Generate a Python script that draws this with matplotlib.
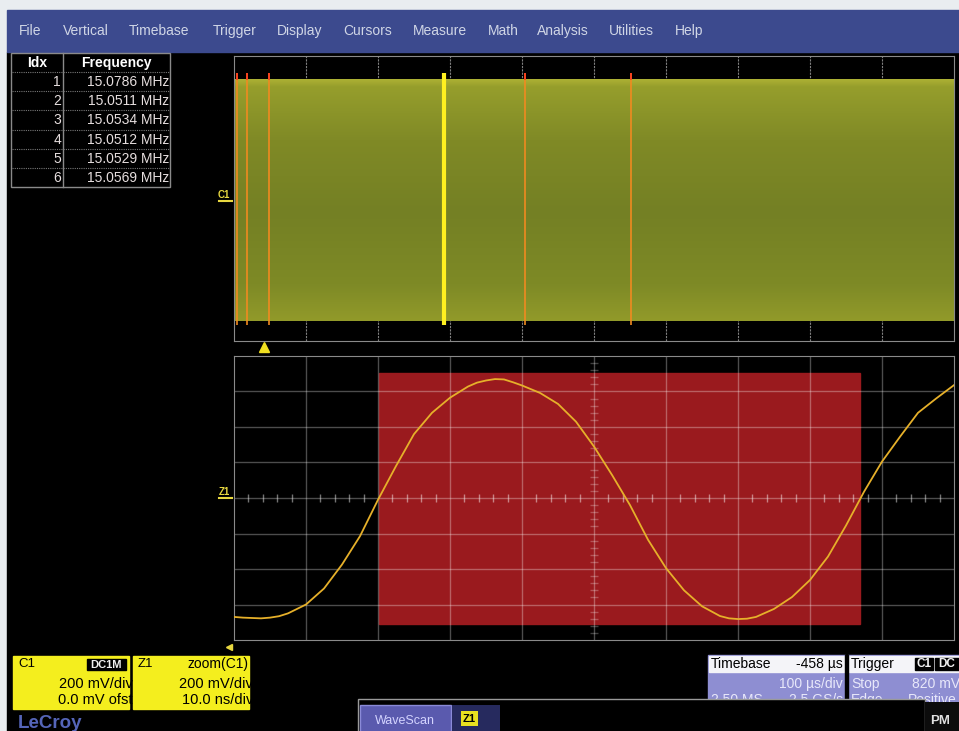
import numpy as np
import matplotlib
matplotlib.use('Agg')
import matplotlib.pyplot as plt
import matplotlib.transforms as mtransforms
from matplotlib.patches import Rectangle

plt.rcParams['font.family'] = ['Liberation Sans', 'DejaVu Sans']

# menu bar
menu_items = ['File', 'Vertical', 'Timebase', 'Trigger', 'Display', 'Cursors',
              'Measure', 'Math', 'Analysis', 'Utilities', 'Help']
menu_x = [19, 63, 129, 213, 277, 343, 413, 488, 537, 609, 675]

# WaveScan result table
scan_idx = [1, 2, 3, 4, 5, 6]
scan_freq_mhz = [15.0786, 15.0511, 15.0534, 15.0512, 15.0529, 15.0569]

# C1 overview, 100 us/div, 200 mV/div
c1_marker_us = [4, 18, 49, 404, 551]
c1_selected_us = 292
c1_trigger_us = 42
c1_band_mv = [-690, 665]
c1_marker_mv = [-711, 706]

# Z1 zoom of C1, 10 ns/div, 200 mV/div
z1_t_ns = [0, 1.25, 2.5, 3.75, 5, 6.25, 7.5, 10, 12.5, 15, 17.5, 20, 22.5, 25,
           27.5, 30, 32.5, 33.75, 35, 36.25, 37.5, 38.75, 40, 42.5, 45, 47.5,
           50, 52.5, 55, 57.5, 60, 62.5, 65, 67.5, 68.75, 70, 71.25, 72.5, 75,
           77.5, 80, 82.5, 85, 87.5, 90, 92.5, 95, 97.5, 100]
z1_mv = [-670, -674, -676, -678, -674, -666, -650, -600, -510, -375, -215, -10,
         180, 360, 480, 565, 628, 650, 662, 670, 668, 652, 634, 592, 530, 430,
         290, 130, -40, -235, -395, -520, -610, -665, -678, -682, -680, -670,
         -625, -558, -462, -330, -155, 35, 205, 345, 480, 560, 636]
period_ns = [20.1, 86.9]
period_mv = [-710, 704]

fig = plt.figure(figsize=(9.59, 7.31), dpi=100)
fig.patch.set_facecolor('#e9edf0')

# screen layer in pixel units
ax0 = fig.add_axes([0, 0, 1, 1])
ax0.set_xlim(0, 959)
ax0.set_ylim(731, 0)
ax0.set_axis_off()

ax0.add_patch(Rectangle((7, 52), 952, 679, color='black', zorder=0))
ax0.add_patch(Rectangle((7, 10), 952, 42, color='#3c4a8e', zorder=1))
for name, x in zip(menu_items, menu_x):
    ax0.text(x, 31, name, color='#d0d6e6', fontsize=10, va='center', ha='left')

# table
ax0.add_patch(Rectangle((11, 53), 159, 134, fill=False, ec='#8a8a8a', lw=1))
ax0.plot([63, 63], [53, 187], color='#8a8a8a', lw=1)
for k in range(6):
    y = 72 + 19.2 * k
    ax0.plot([12, 169], [y, y], color='#777777', lw=0.8, ls=(0, (1, 1)))
ax0.text(37, 63, 'Idx', color='white', fontsize=10, fontweight='bold', ha='center', va='center')
ax0.text(116, 63, 'Frequency', color='white', fontsize=10, fontweight='bold', ha='center', va='center')
for k, (i, f) in enumerate(zip(scan_idx, scan_freq_mhz)):
    y = 82 + 19.2 * k
    ax0.text(61, y, str(i), color='#e6dede', fontsize=10, ha='right', va='center')
    ax0.text(169, y, f'{f:.4f} MHz', color='#e6dede', fontsize=10, ha='right', va='center')

# channel labels at left of the grids
for lab, y in [('C1', 195), ('Z1', 492)]:
    ax0.text(224, y, lab, color='#e8d840', fontsize=7, ha='center', va='center', fontweight='bold')
    ax0.plot([219, 232], [y + 6, y + 6], color='#e8d840', lw=1.5)
ax0.plot([229], [647], marker='<', color='#e8d840', ms=5)

# upper grid: C1 overview
ax_up = fig.add_axes([234 / 959, 1 - 341 / 731, 720 / 959, 285 / 731])
ax_up.set_xlim(0, 1000)
ax_up.set_ylim(-800, 800)
ax_up.set_facecolor('black')
for s in ax_up.spines.values():
    s.set_color('#8a8a8a')
ax_up.set_xticks([])
ax_up.set_yticks([])
for k in range(1, 10):
    ax_up.axvline(k * 100, color='#808080', lw=0.8, ls=(0, (2, 1)), zorder=1)
for k in range(1, 8):
    ax_up.axhline(-800 + k * 200, color='#808080', lw=0.8, ls=(0, (2, 1)), zorder=1)

stops = [0, 0.03, 0.25, 0.55, 0.85, 1.0]
rgb = np.array([[172, 176, 52], [150, 158, 44], [128, 138, 38],
                [116, 128, 36], [126, 138, 38], [146, 154, 42]]) / 255
pos = np.linspace(0, 1, 200)
grad = np.stack([np.interp(pos, stops, rgb[:, c]) for c in range(3)], axis=-1)[:, None, :]
ax_up.imshow(grad, extent=(0, 1000, c1_band_mv[0], c1_band_mv[1]), aspect='auto',
             origin='upper', zorder=2)
ax_up.vlines(c1_marker_us, c1_marker_mv[0], c1_marker_mv[1], colors='#f08a20', lw=1.2, zorder=3)
ax_up.vlines(c1_marker_us, c1_band_mv[1], c1_marker_mv[1], colors='#ff3a20', lw=1.2, zorder=3)
ax_up.vlines([c1_selected_us], c1_marker_mv[0], c1_marker_mv[1], colors='#fff020', lw=3, zorder=4)
trans = mtransforms.blended_transform_factory(ax_up.transData, ax_up.transAxes)
ax_up.plot([c1_trigger_us], [-0.02], marker='^', color='#f0e020', ms=7,
           transform=trans, clip_on=False)

# lower grid: Z1 zoom
ax_lo = fig.add_axes([234 / 959, 1 - 640 / 731, 720 / 959, 284 / 731])
ax_lo.set_xlim(0, 100)
ax_lo.set_ylim(-800, 800)
ax_lo.set_facecolor('black')
for s in ax_lo.spines.values():
    s.set_color('#8a8a8a')
ax_lo.set_xticks([])
ax_lo.set_yticks([])
ax_lo.add_patch(Rectangle((period_ns[0], period_mv[0]), period_ns[1] - period_ns[0],
                          period_mv[1] - period_mv[0], color='#9a1a1e', zorder=1))
for k in range(1, 10):
    ax_lo.axvline(k * 10, color='white', alpha=0.3, lw=1.0, zorder=2)
for k in range(1, 8):
    ax_lo.axhline(-800 + k * 200, color='white', alpha=0.3, lw=1.0, zorder=2)
minor_t = [t for t in np.arange(2, 100, 2) if t % 10]
minor_v = [v for v in np.arange(-760, 800, 40) if v % 200]
ax_lo.vlines(minor_t, -22, 22, colors='white', alpha=0.45, lw=1, zorder=2)
ax_lo.hlines(minor_v, 49.5, 50.5, colors='white', alpha=0.25, lw=1, zorder=2)
ax_lo.plot(z1_t_ns, z1_mv, color='#e6b02a', lw=1.3, zorder=4)

# channel descriptor boxes
def chan_box(x, name, right, line2, line3, tag=None):
    ax0.add_patch(Rectangle((x, 656), 116, 53, color='#f4ee1e', zorder=2))
    ax0.text(x + 5, 664, name, fontsize=9.5, color='black', va='center', zorder=3)
    if tag:
        ax0.add_patch(Rectangle((x + 74, 659), 39, 11, color='black', zorder=3))
        ax0.text(x + 93, 664.5, tag, fontsize=8, color='#f0f0f0', fontweight='bold',
                 ha='center', va='center', zorder=4)
    else:
        ax0.text(x + 116, 664, right, fontsize=10, color='black', ha='right', va='center', zorder=3)
    clip = Rectangle((x, 656), 115, 53, transform=ax0.transData)
    for txt, y in [(line2, 684), (line3, 700)]:
        t = ax0.text(x + 120, y, txt, fontsize=10.5, color='black', ha='right', va='center', zorder=3)
        t.set_clip_path(clip)

chan_box(13, 'C1', None, '200 mV/div', '0.0 mV ofst', tag='DC1M')
chan_box(133, 'Z1', 'zoom(C1)', '200 mV/div', '10.0 ns/div')

ax0.text(18, 723, 'LeCroy', color='#5565b8', fontsize=13.5, fontweight='bold', va='center')

# timebase and trigger boxes
ax0.add_patch(Rectangle((708, 655), 137, 60, color='#8e8ed2', zorder=2))
ax0.add_patch(Rectangle((709, 656), 135, 16, color='#f4f4f8', zorder=2))
ax0.text(711, 664, 'Timebase', fontsize=10, color='black', va='center', zorder=3)
ax0.text(843, 664, '-458 µs', fontsize=10, color='black', ha='right', va='center', zorder=3)
ax0.text(843, 684, '100 µs/div', fontsize=10, color='#e8e8fa', ha='right', va='center', zorder=3)
ax0.text(711, 700, '2.50 MS', fontsize=10, color='#e8e8fa', va='center', zorder=3)
ax0.text(843, 700, '2.5 GS/s', fontsize=10, color='#e8e8fa', ha='right', va='center', zorder=3)

ax0.add_patch(Rectangle((848, 655), 115, 60, color='#8e8ed2', zorder=2))
ax0.add_patch(Rectangle((849, 656), 114, 16, color='#f4f4f8', zorder=2))
ax0.text(851, 664, 'Trigger', fontsize=10, color='black', va='center', zorder=3)
for lab, bx, bw in [('C1', 915, 18), ('DC', 935, 24)]:
    ax0.add_patch(Rectangle((bx, 658), bw, 12, color='black', zorder=3))
    ax0.text(bx + bw / 2, 664, lab, fontsize=8.5, color='#f0f0f0', fontweight='bold',
             ha='center', va='center', zorder=4)
ax0.text(851, 684, 'Stop', fontsize=10, color='#e8e8fa', va='center', zorder=3)
ax0.text(912, 684, '820 mV', fontsize=10, color='#e8e8fa', va='center', zorder=3)
ax0.text(851, 700, 'Edge', fontsize=10, color='#e8e8fa', va='center', zorder=3)
ax0.text(908, 700, 'Positive', fontsize=10, color='#e8e8fa', va='center', zorder=3)
ax0.add_patch(Rectangle((845, 655), 3, 60, color='black', zorder=2.5))

# bottom dialog tabs
ax0.add_patch(Rectangle((358, 699), 567, 40, fc='black', ec='#9a9a9a', lw=1, zorder=5))
ax0.add_patch(Rectangle((925, 702), 40, 40, fc='#0c0c0c', zorder=5))
ax0.text(930, 721, 'PM', fontsize=9.5, color='#e0e0e0', fontweight='bold', va='center', zorder=6)
ax0.add_patch(Rectangle((360, 705), 91, 30, fc='#5a5aae', ec='#8a8ad8', lw=1, zorder=6))
ax0.text(405, 721, 'WaveScan', fontsize=9, color='#d4d4ff', ha='center', va='center', zorder=7)
ax0.add_patch(Rectangle((452, 705), 48, 30, fc='#262a5e', zorder=6))
ax0.add_patch(Rectangle((461, 711), 17, 15, fc='#e8e020', zorder=7))
ax0.text(469.5, 718.5, 'Z1', fontsize=8, color='black', fontweight='bold', ha='center', va='center', zorder=8)

fig.savefig('out.png', dpi=100, facecolor=fig.get_facecolor())
